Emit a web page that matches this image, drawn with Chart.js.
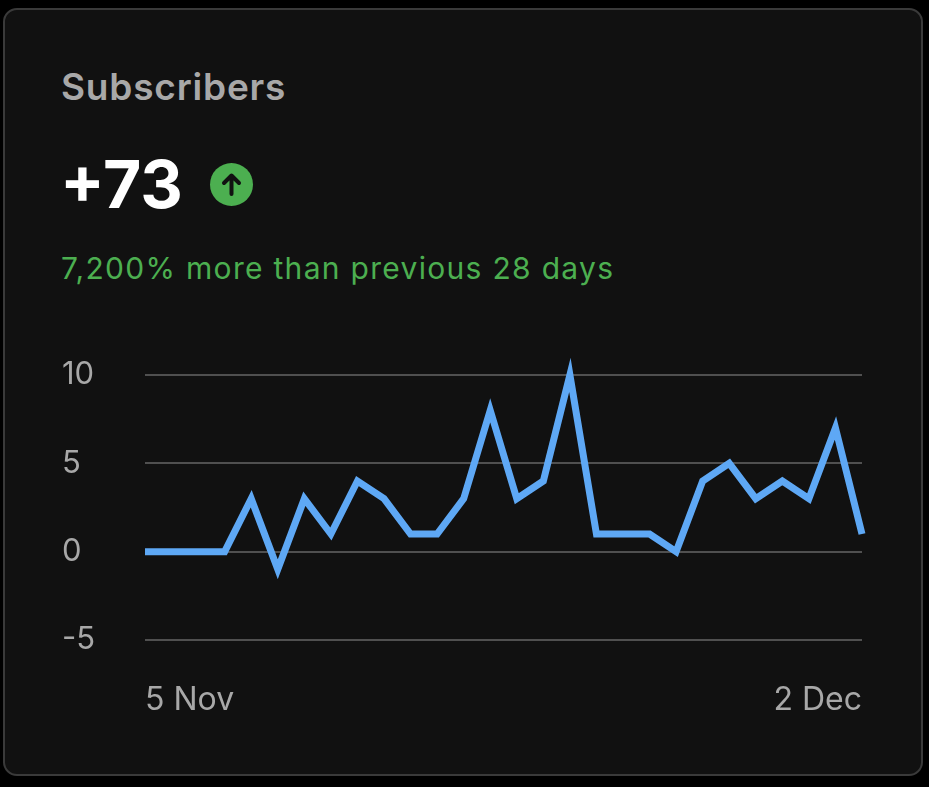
<!DOCTYPE html>
<html><head><meta charset="utf-8">
<script src="https://cdn.jsdelivr.net/npm/chart.js@4"></script>
<style>
html,body{margin:0;padding:0;background:#000;width:929px;height:787px;overflow:hidden;font-family:"Inter","Roboto",sans-serif}
#card{position:absolute;left:3px;top:8px;width:920px;height:768px;background:#111;border:2px solid #3a3a3a;border-radius:14px;box-sizing:border-box}
#t{position:absolute;left:61px;top:64px;font-size:37px;font-weight:600;color:#a8a8a8;letter-spacing:0.8px}
#v{position:absolute;left:60px;top:146px;font-size:66px;font-weight:700;color:#fff;line-height:76px}
#ic{position:absolute;left:210px;top:163px;width:43px;height:43px;border-radius:50%;background:#4caf50}
#s{position:absolute;left:61px;top:250px;font-size:30px;color:#4caf50;letter-spacing:1.3px}
canvas{position:absolute;left:0;top:0}
</style></head><body>
<div id="card"></div>
<div id="t">Subscribers</div>
<div id="v">+73</div>
<div id="ic"><svg width="43" height="43" viewBox="0 0 43 43"><path d="M21.5 31V13M14 20l7.5-7.5L29 20" stroke="#111" stroke-width="4" fill="none" stroke-linecap="round" stroke-linejoin="round"/></svg></div>
<div id="s">7,200% more than previous 28 days</div>
<canvas id="c" width="929" height="787"></canvas>
<script>
const categories=["5 Nov","6 Nov","7 Nov","8 Nov","9 Nov","10 Nov","11 Nov","12 Nov","13 Nov","14 Nov","15 Nov","16 Nov","17 Nov","18 Nov","19 Nov","20 Nov","21 Nov","22 Nov","23 Nov","24 Nov","25 Nov","26 Nov","27 Nov","28 Nov","29 Nov","30 Nov","1 Dec","2 Dec"];
const subscribers=[0,0,0,0,3,-1,3,1,4,3,1,1,3,8,3,4,10,1,1,1,0,4,5,3,4,3,7,1];
const yTicks=[-5,0,5,10];
new Chart(document.getElementById('c'),{type:'line',
data:{labels:categories,datasets:[{data:subscribers,borderColor:'#5ea8f5',borderWidth:7,pointRadius:0,tension:0,clip:false,borderJoinStyle:'miter'}]},
options:{responsive:false,animation:false,events:[],
layout:{padding:{left:62,right:67,top:375,bottom:67}},
plugins:{legend:{display:false},tooltip:{enabled:false}},
scales:{
y:{min:-5,max:10,afterFit:s=>{s.width=83},afterBuildTicks:s=>{s.ticks=yTicks.map(v=>({value:v}))},
grid:{color:'#505050',lineWidth:2,drawTicks:false},border:{display:false},
ticks:{crossAlign:'far',color:'#a8a8a8',font:{size:31,family:'Inter'},padding:0}},
x:{afterFit:s=>{s.height=80},grid:{display:false},border:{display:false},
ticks:{autoSkip:false,maxRotation:0,align:'inner',color:'#a8a8a8',font:{size:32,family:'Inter'},padding:33,
callback:(v,i)=>(i===0||i===categories.length-1)?categories[i]:''}}}}});
</script></body></html>
